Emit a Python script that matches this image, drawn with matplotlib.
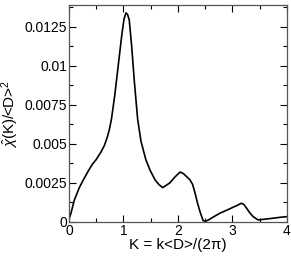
import matplotlib
matplotlib.use('Agg')
import matplotlib.pyplot as plt
from matplotlib.ticker import MultipleLocator, FuncFormatter

plt.rcParams['font.family'] = ['Liberation Sans', 'DejaVu Sans']
plt.rcParams['mathtext.fontset'] = 'custom'
plt.rcParams['mathtext.rm'] = 'Liberation Sans'
plt.rcParams['mathtext.it'] = 'Liberation Sans:italic'

# curve
K = [0.0, 0.006, 0.037, 0.098, 0.19, 0.28, 0.36, 0.43, 0.50, 0.59, 0.65, 0.70,
     0.74, 0.78, 0.84, 0.90, 0.97, 1.01, 1.046, 1.075, 1.106, 1.15, 1.20, 1.26,
     1.32, 1.38, 1.41, 1.49, 1.58, 1.65, 1.72, 1.85, 1.95, 2.04, 2.10, 2.16,
     2.22, 2.27, 2.31, 2.36, 2.41, 2.46, 2.50, 2.56, 2.66, 2.77, 2.90, 3.01,
     3.10, 3.16, 3.21, 3.26, 3.32, 3.38, 3.47, 3.60, 3.75, 3.88, 4.0]
chi = [0.0, 0.00024, 0.00056, 0.0014, 0.0022, 0.0028, 0.0033, 0.0037, 0.0040,
       0.0045, 0.0049, 0.0054, 0.0059, 0.0066, 0.0081, 0.0099, 0.0120, 0.0130,
       0.0134, 0.0133, 0.01295, 0.0113, 0.0090, 0.0066, 0.0052, 0.0044, 0.0040,
       0.0033, 0.0027, 0.0024, 0.0022, 0.0025, 0.0029, 0.0032, 0.0031, 0.0029,
       0.0027, 0.0024, 0.0019, 0.0012, 0.0006, 0.0001, 0.00003, 0.00013,
       0.00034, 0.00056, 0.00076, 0.00094, 0.00108, 0.0012, 0.00112, 0.00088,
       0.00058, 0.00034, 0.00013, 0.00018, 0.00024, 0.0003, 0.00034]

fig = plt.figure(figsize=(2.91, 2.56), dpi=100)
ax = fig.add_axes([0.237, 0.133, 0.749, 0.846])
ax.plot(K, chi, color='black', lw=1.2)

ax.set_xlim(0, 4)
ax.set_ylim(0, 0.01388)
ax.xaxis.set_major_locator(MultipleLocator(1))
ax.xaxis.set_minor_locator(MultipleLocator(0.5))
ax.yaxis.set_major_locator(MultipleLocator(0.0025))
ax.yaxis.set_minor_locator(MultipleLocator(0.00125))
ax.yaxis.set_major_formatter(FuncFormatter(lambda v, p: '%g' % round(v, 6)))
ax.tick_params(which='both', direction='in', top=True, right=True, labelsize=10,
               pad=1.5, width=0.8)
ax.tick_params(which='major', length=5)
ax.tick_params(which='minor', length=3)
for s in ax.spines.values():
    s.set_linewidth(0.9)
    s.set_color('#555555')

ax.set_xlabel('K = k<D>/(2\u03c0)', fontsize=11, labelpad=0)
ax.set_ylabel(r'$\hat{\chi}$(K)/<D>$^2$', fontsize=11, labelpad=2)

fig.savefig('out.png', dpi=100)
